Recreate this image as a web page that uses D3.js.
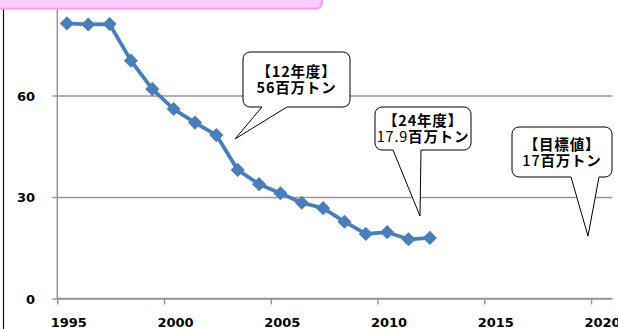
<!DOCTYPE html>
<html>
<head>
<meta charset="utf-8">
<script src="https://cdn.jsdelivr.net/npm/d3@7"></script>
<style>
  html, body { margin: 0; padding: 0; background: #fff; }
  svg { display: block; }
</style>
</head>
<body>
<svg id="chart" width="618" height="329"></svg>
<script>
// Final disposal amount (million tonnes) by fiscal year
const fiscalYears = [1995, 1996, 1997, 1998, 1999, 2000, 2001, 2002, 2003, 2004,
                     2005, 2006, 2007, 2008, 2009, 2010, 2011, 2012];
const disposal = [81.3, 81.0, 81.1, 70.3, 61.9, 56.0, 52.0, 48.3, 38.0, 33.8,
                  31.1, 28.3, 26.7, 22.7, 19.1, 19.6, 17.5, 17.9];
const yTicks = [0, 30, 60];
const xTicks = [1995, 2000, 2005, 2010, 2015, 2020];

// Speech-bubble annotations
const calloutHeads = ["【12年度】", "【24年度】", "【目標値】"];
const calloutValues = ["56", "17.9", "17"];
const calloutUnits = ["百万トン", "百万トン", "百万トン"];
const calloutValueWeights = [700, 400, 500];
// box: [left, top, right, bottom], wedge base [x1, x2], tip [x, y]
const calloutBoxes = [[243, 52, 350, 107], [375, 107, 471, 150], [512, 127, 612, 177]];
const calloutWedges = [[262, 287], [393, 421], [571, 599]];
const calloutTips = [[235, 139], [420, 216], [588, 236]];

const svg = d3.select("#chart");
const blue = "#4A7EBB";
const grid = "#979797";

const x = d3.scaleLinear().domain([1995, 2021]).range([57.3, 612.4]);
const y = d3.scaleLinear().domain([0, 90]).range([298.5, -6]);

const defs = svg.append("defs");
defs.append("filter").attr("id", "soft")
  .attr("x", "-5%").attr("y", "-5%").attr("width", "110%").attr("height", "110%")
  .append("feGaussianBlur").attr("stdDeviation", 0.55);

// left frame edge
svg.append("line").attr("x1", 3.5).attr("x2", 3.5).attr("y1", 0).attr("y2", 329)
  .attr("stroke", "#111").attr("stroke-width", 1.2);

// horizontal gridlines + y axis
const yAxis = d3.axisLeft(y).tickValues(yTicks).tickSize(5).tickFormat(d3.format("d"));
const gy = svg.append("g").attr("transform", `translate(${x(1995)},0)`).call(yAxis);
gy.select(".domain").remove();
gy.selectAll(".tick line").attr("stroke", grid).attr("stroke-width", 1.5);
gy.selectAll(".tick").append("line")
  .attr("x1", 0).attr("x2", x(2021) - x(1995))
  .attr("stroke", grid).attr("stroke-width", 1.5);
gy.selectAll(".tick text")
  .attr("x", 35 - x(1995)).attr("dy", "0.36em")
  .attr("text-anchor", "end")
  .attr("font-family", "DejaVu Sans, Verdana, sans-serif")
  .attr("font-weight", "bold").attr("font-size", 13).attr("fill", "#000");
svg.append("line")
  .attr("x1", x(1995)).attr("x2", x(1995)).attr("y1", 0).attr("y2", y(0))
  .attr("stroke", grid).attr("stroke-width", 1.5);

// x axis (labels sit slightly right of their ticks)
const xAxis = d3.axisBottom(x).tickValues(xTicks).tickSize(6).tickFormat(d3.format("d"));
const gx = svg.append("g").attr("transform", `translate(0,${y(0)})`).call(xAxis);
gx.select(".domain").attr("stroke", grid).attr("stroke-width", 1.5)
  .attr("d", `M${x(1995)},0H${x(2021)}`);
gx.selectAll(".tick line").attr("stroke", grid).attr("stroke-width", 1.5);
gx.selectAll(".tick text")
  .attr("x", 11).attr("y", 0).attr("dy", 28.5)
  .attr("font-family", "DejaVu Sans, Verdana, sans-serif")
  .attr("font-weight", "bold").attr("font-size", 13).attr("fill", "#000");

// data series
const pts = fiscalYears.map((yr, i) => [x(yr + 0.45), y(disposal[i])]);
const series = svg.append("g").attr("filter", "url(#soft)");
series.append("path")
  .attr("d", d3.line()(pts))
  .attr("fill", "none").attr("stroke", blue)
  .attr("stroke-width", 3.8).attr("stroke-linejoin", "round");
series.selectAll("path.mk").data(pts).join("path").attr("class", "mk")
  .attr("d", d3.symbol(d3.symbolSquare, 100)())
  .attr("transform", d => `translate(${d[0]},${d[1]}) rotate(45)`)
  .attr("fill", blue);

// callouts
function bubble(b, w, t, r) {
  const [x0, y0, x1, y1] = b;
  return `M${x0 + r},${y0}H${x1 - r}A${r},${r} 0 0 1 ${x1},${y0 + r}` +
    `V${y1 - r}A${r},${r} 0 0 1 ${x1 - r},${y1}` +
    `H${w[1]}L${t[0]},${t[1]}L${w[0]},${y1}` +
    `H${x0 + r}A${r},${r} 0 0 1 ${x0},${y1 - r}` +
    `V${y0 + r}A${r},${r} 0 0 1 ${x0 + r},${y0}Z`;
}
const cjk = "'Noto Sans CJK JP', 'Noto Sans', sans-serif";
calloutBoxes.forEach((b, i) => {
  const g = svg.append("g");
  g.append("path").attr("d", bubble(b, calloutWedges[i], calloutTips[i], 7))
    .attr("fill", "#fff").attr("stroke", "#000").attr("stroke-width", 1);
  const cx = (b[0] + b[2]) / 2;
  const cy = (b[1] + b[3]) / 2;
  // two-line label in one text element
  const t = g.append("text").attr("text-anchor", "middle")
    .attr("font-family", cjk).attr("font-size", 14.5).attr("letter-spacing", 0.8)
    .attr("fill", "#000");
  t.append("tspan").attr("x", cx).attr("y", cy - 7.5).attr("dy", "0.36em")
    .attr("font-weight", 700).text(calloutHeads[i]);
  t.append("tspan").attr("x", cx).attr("y", cy + 8.5).attr("dy", "0.36em")
    .attr("font-weight", calloutValueWeights[i]).text(calloutValues[i]);
  t.append("tspan").attr("font-weight", 700).text(calloutUnits[i]);
});

// pink title banner peeking in at the top
svg.append("rect").attr("x", -10).attr("y", -20).attr("width", 332).attr("height", 28.5)
  .attr("rx", 6).attr("fill", "#FFCCFF").attr("stroke", "#FF99F0").attr("stroke-width", 2);
</script>
</body>
</html>
